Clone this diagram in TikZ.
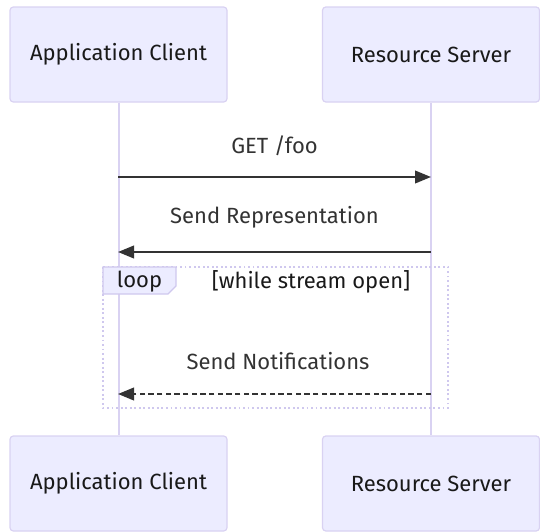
\documentclass[tikz,border=0pt]{standalone}
\usepackage{fontspec}
\setmainfont{Fira Sans}
\usetikzlibrary{arrows.meta}
\definecolor{actfill}{HTML}{ECECFF}
\definecolor{actline}{HTML}{D9D2F2}
\definecolor{loopline}{HTML}{CFC8EE}
\definecolor{ink}{HTML}{333333}
\tikzset{
  actor/.style={draw=actline, line width=0.9pt, fill=actfill, rounded corners=2.5pt,
    minimum width=162.75pt, minimum height=71.25pt, inner sep=0pt,
    font=\fontsize{16.5}{19}\selectfont, text=black!90},
  life/.style={draw=actline, line width=1.5pt},
  msg/.style={draw=ink, line width=1.4pt, -{Triangle[length=12pt,width=9.5pt]}},
  msgtext/.style={font=\fontsize{16.5}{19}\selectfont, text=ink},
  loopbox/.style={draw=loopline, line width=1.4pt, dotted},
}
\begin{document}
\begin{tikzpicture}[x=0.75pt,y=-0.75pt]
\useasboundingbox (0,0) rectangle (540,532);
% actors
\node[actor] (ac) at (118.5,54.5) {Application Client};
\node[actor] (rs) at (431,54.5) {Resource Server};
\node[actor] (ac2) at (118.5,483.5) {Application Client};
\node[actor] (rs2) at (431,483.5) {Resource Server};
% lifelines
\draw[life] (ac.south) -- (ac2.north);
\draw[life] (rs.south) -- (rs2.north);
% loop box
\coordinate (lpTL) at (103,267);
\coordinate (lpBR) at (448,408);
\draw[loopbox] (lpTL) rectangle (lpBR);
\draw[draw=loopline, line width=0.8pt, fill=actfill] (103,267) -- (176,267) -- (176,286) -- (168,294) -- (103,294) -- cycle;
\node[msgtext, text=black!90] (looplbl) at (139.5,282) {loop};
\node[msgtext, text=black!90] (loopcond) at (311,282) {[while stream open]};
% message points
\coordinate (a1) at (118,177);
\coordinate (r1) at (431,177);
\coordinate (a2) at (118,252);
\coordinate (r2) at (431,252);
\coordinate (a3) at (118,394);
\coordinate (r3) at (431,394);
% messages
\draw[msg] (a1) -- (r1);
\node[msgtext] (m1) at (274.5,146) {GET /foo};
\draw[msg] (r2) -- (a2);
\node[msgtext] (m2) at (274.5,217) {Send Representation};
\draw[msg, dash pattern=on 4pt off 2.5pt] (r3) -- (a3);
\node[msgtext] (m3) at (278,361) {Send Notifications};
\end{tikzpicture}
\end{document}
